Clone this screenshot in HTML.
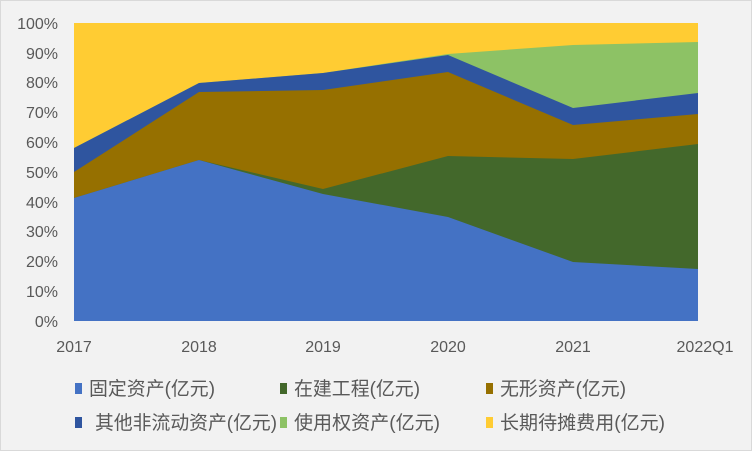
<!DOCTYPE html>
<html><head><meta charset="utf-8"><style>
body{margin:0;background:#fff}
svg{display:block}
text{font-family:"Liberation Sans","Noto Sans CJK SC",sans-serif;fill:#595959}
</style></head><body>
<svg width="752" height="451" viewBox="0 0 752 451" xmlns="http://www.w3.org/2000/svg">
<rect x="0.5" y="0.5" width="751" height="450" fill="#F2F2F2" stroke="#D9D9D9"/>
<rect x="74" y="23" width="624" height="298" fill="#FFCC33"/>
<polygon fill="#8DC265" points="74,148 199,83 323,73 448,54 573,45 698,42 698,321 74,321"/>
<polygon fill="#2F559F" points="74,148 199,83 323,73 448,55 573,108 698,93 698,321 74,321"/>
<polygon fill="#967000" points="74,172 199,92 323,90 448,72 573,125 698,114 698,321 74,321"/>
<polygon fill="#43682B" points="74,198 199,160 323,189 448,156 573,159 698,144 698,321 74,321"/>
<polygon fill="#4472C4" points="74,198 199,160 323,194 448,217 573,262 698,269 698,321 74,321"/>
<g font-size="16" text-anchor="end">
<text x="58" y="29">100%</text><text x="58" y="59">90%</text><text x="58" y="88">80%</text>
<text x="58" y="118">70%</text><text x="58" y="148">60%</text><text x="58" y="178">50%</text>
<text x="58" y="208">40%</text><text x="58" y="237">30%</text><text x="58" y="267">20%</text>
<text x="58" y="297">10%</text><text x="58" y="327">0%</text>
</g>
<g font-size="16" text-anchor="middle">
<text x="74" y="352">2017</text><text x="199" y="352">2018</text><text x="323" y="352">2019</text>
<text x="448" y="352">2020</text><text x="573" y="352">2021</text><text x="705" y="352">2022Q1</text>
</g>
<g font-size="19">
<rect x="75" y="383" width="7" height="11" fill="#4472C4"/><text x="89" y="395" textLength="126" lengthAdjust="spacingAndGlyphs">固定资产(亿元)</text>
<rect x="280" y="383" width="7" height="11" fill="#43682B"/><text x="294" y="395" textLength="126" lengthAdjust="spacingAndGlyphs">在建工程(亿元)</text>
<rect x="486" y="383" width="7" height="11" fill="#967000"/><text x="500" y="395" textLength="126" lengthAdjust="spacingAndGlyphs">无形资产(亿元)</text>
<rect x="75" y="417" width="7" height="11" fill="#2F559F"/><text x="95" y="429" textLength="182" lengthAdjust="spacingAndGlyphs">其他非流动资产(亿元)</text>
<rect x="280" y="417" width="7" height="11" fill="#8DC265"/><text x="294" y="429" textLength="146" lengthAdjust="spacingAndGlyphs">使用权资产(亿元)</text>
<rect x="486" y="417" width="7" height="11" fill="#FFCC33"/><text x="500" y="429" textLength="165" lengthAdjust="spacingAndGlyphs">长期待摊费用(亿元)</text>
</g>
</svg>
</body></html>
